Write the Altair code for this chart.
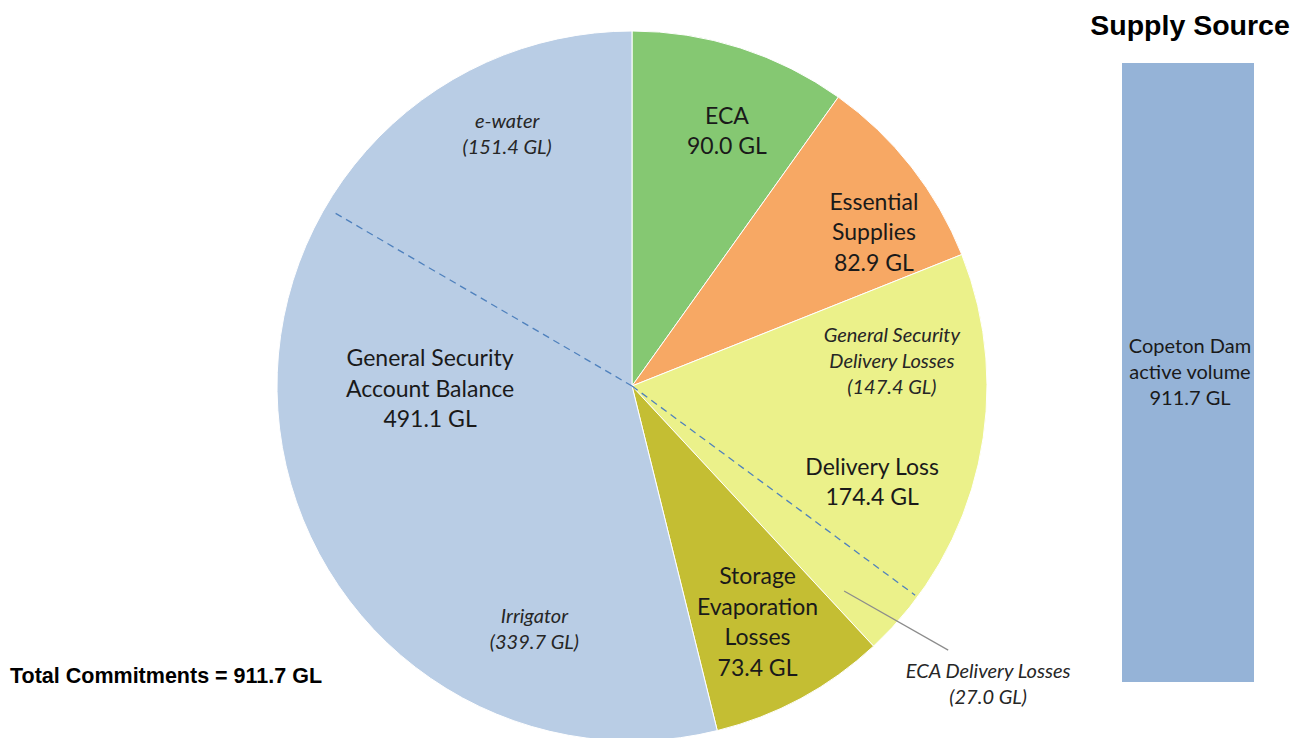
import altair as alt
import pandas as pd
import numpy as np

# ---------------- data ----------------
slice_names = ["ECA", "Essential Supplies", "Delivery Loss",
               "Storage Evaporation Losses", "General Security Account Balance"]
slice_values = [90.0, 82.9, 174.4, 73.4, 491.1]
slice_lines = [["ECA"], ["Essential", "Supplies"], ["Delivery Loss"],
               ["Storage", "Evaporation", "Losses"], ["General Security", "Account Balance"]]
slice_colors = ["#85C872", "#F7A864", "#EBF18A", "#C4BE33", "#B9CDE5"]

# sub-components (italic)
sub_names = ["General Security Delivery Losses", "ECA Delivery Losses", "Irrigator", "e-water"]
sub_parent = ["Delivery Loss", "Delivery Loss", "General Security Account Balance",
              "General Security Account Balance"]
sub_values = [147.4, 27.0, 339.7, 151.4]
sub_lines = [["General Security", "Delivery Losses"], ["ECA Delivery Losses"],
             ["Irrigator"], ["e-water"]]

supply_name = ["Copeton Dam", "active volume"]
supply_value = [911.7]
total_commitments = 911.7

# ---------------- layout ----------------
CX, CY, R = 624, 378, 355
W, H = 1289, 730
main_layout = {"ECA": (0.577, 271), "Essential Supplies": (0.679, 286),
               "Delivery Loss": (0.635, 259), "Storage Evaporation Losses": (0.516, 268),
               "General Security Account Balance": (0.530, 202)}
sub_layout = {"General Security Delivery Losses": (0.282, 261),
              "ECA Delivery Losses": (0.333, 465),
              "Irrigator": (0.266, 263), "e-water": (0.557, 280)}
MAIN_FS, MAIN_LH = 23, 30.5
SUB_FS, SUB_LH = 20, 26

TOTAL = float(np.sum(slice_values))
starts = np.concatenate([[0.0], np.cumsum(slice_values)[:-1]])
start_of = dict(zip(slice_names, starts))

pie_df = pd.DataFrame({"name": slice_names, "value": slice_values,
                       "idx": list(range(len(slice_names)))})

main_lbl = pd.DataFrame({
    "text": [ln + [f"{v:.1f} GL"] for ln, v in zip(slice_lines, slice_values)],
    "anchor": [start_of[n] + main_layout[n][0] * v for n, v in zip(slice_names, slice_values)],
    "r": [main_layout[n][1] for n in slice_names],
})

sub_start = []
offset = {}
for n, p, v in zip(sub_names, sub_parent, sub_values):
    s = start_of[p] + offset.get(p, 0.0)
    sub_start.append(s)
    offset[p] = offset.get(p, 0.0) + v

sub_lbl = pd.DataFrame({
    "text": [ln + [f"({v:.1f} GL)"] for ln, v in zip(sub_lines, sub_values)],
    "anchor": [s + sub_layout[n][0] * v for n, s, v in zip(sub_names, sub_start, sub_values)],
    "r": [sub_layout[n][1] for n in sub_names],
})

div_df = pd.DataFrame({"gl": [sub_start[1], sub_start[3]], "r0": [0, 0], "r1": [352, 346]})
eca_s = sub_start[1]
lead_df = pd.DataFrame({"gl": [eca_s + 0.71 * sub_values[1]], "r0": [295],
                        "gl2": [eca_s + 0.32 * sub_values[1]], "r1": [412]})

theta_scale = alt.Scale(domain=[0, TOTAL])
base_xy = dict(x=alt.value(CX), y=alt.value(CY))

pie = alt.Chart(pie_df).mark_arc(radius=R, stroke="white", strokeWidth=1).encode(
    theta=alt.Theta("value:Q", stack=True, scale=theta_scale),
    color=alt.Color("name:N", scale=alt.Scale(domain=slice_names, range=slice_colors), legend=None),
    order=alt.Order("idx:Q"),
    **base_xy,
)


def label_layers(df, fs, lh, italic):
    layers = []
    df = df.copy()
    df["n"] = df["text"].apply(len)
    for n in sorted(df["n"].unique()):
        sub = df[df["n"] == n].drop(columns="n")
        kw = dict(font="Lato", fontSize=fs, color="#1a1a1a" if not italic else "#262626",
                  align="center", baseline="middle", lineHeight=lh, dy=-(n - 1) * lh / 2)
        if italic:
            kw["fontStyle"] = "italic"
        layers.append(alt.Chart(sub).mark_text(**kw).encode(
            theta=alt.Theta("anchor:Q", stack=None, scale=theta_scale),
            radius=alt.Radius("r:Q", scale=None),
            text="text",
            **base_xy,
        ))
    return layers


main_text = label_layers(main_lbl, MAIN_FS, MAIN_LH, False)
sub_text = label_layers(sub_lbl, SUB_FS, SUB_LH, True)

ang = f"2*PI*datum.gl/{TOTAL}"
dividers = alt.Chart(div_df).transform_calculate(
    x1=f"{CX} + datum.r0*sin({ang})", y1=f"{CY} - datum.r0*cos({ang})",
    x2=f"{CX} + datum.r1*sin({ang})", y2=f"{CY} - datum.r1*cos({ang})",
).mark_rule(color="#4F81BD", strokeWidth=1.3, strokeDash=[7, 5]).encode(
    x=alt.X("x1:Q", scale=None, axis=None), x2="x2:Q",
    y=alt.Y("y1:Q", scale=None, axis=None), y2="y2:Q",
)

ang2 = f"2*PI*datum.gl2/{TOTAL}"
leader = alt.Chart(lead_df).transform_calculate(
    x1=f"{CX} + datum.r0*sin({ang})", y1=f"{CY} - datum.r0*cos({ang})",
    x2=f"{CX} + datum.r1*sin({ang2})", y2=f"{CY} - datum.r1*cos({ang2})",
).mark_rule(color="#8C8C8C", strokeWidth=1.2).encode(
    x=alt.X("x1:Q", scale=None, axis=None), x2="x2:Q",
    y=alt.Y("y1:Q", scale=None, axis=None), y2="y2:Q",
)

supply_df = pd.DataFrame({"v": supply_value, "mid": [supply_value[0] / 2],
                          "text": [supply_name + [f"{supply_value[0]:.1f} GL"]]})
yscale = alt.Scale(domain=[0, supply_value[0]], range=[674, 55])
bar = alt.Chart(supply_df).mark_bar(color="#95B3D7").encode(
    x=alt.value(1114), x2=alt.value(1246),
    y=alt.Y("v:Q", scale=yscale, axis=None), y2=alt.Y2(datum=0),
)
bar_text = alt.Chart(supply_df).mark_text(
    font="Lato", fontSize=20, color="#1a1a1a", align="center", baseline="middle",
    lineHeight=26, dy=-26
).encode(
    x=alt.value(1182), y=alt.Y("mid:Q", scale=yscale, axis=None), text="text",
)

title_df = pd.DataFrame({"t": ["Supply Source"]})
title = alt.Chart(title_df).mark_text(
    font="Liberation Sans", fontSize=28.5, fontWeight="bold", color="#000000",
    align="center", baseline="middle"
).encode(x=alt.value(1182), y=alt.value(18), text="t:N")

tot_df = pd.DataFrame({"t": [f"Total Commitments = {total_commitments:.1f} GL"]})
tot = alt.Chart(tot_df).mark_text(
    font="Liberation Sans", fontSize=21.5, fontWeight="bold", color="#000000",
    align="left", baseline="middle"
).encode(x=alt.value(2), y=alt.value(669), text="t:N")

chart = alt.layer(pie, dividers, leader, *main_text, *sub_text, bar, bar_text, title, tot).resolve_scale(
    y="independent", x="independent"
).properties(
    width=W, height=H, padding=0, autosize=alt.AutoSizeParams(type="none")
).configure_view(stroke=None)

chart.save("out.html", embed_options={"renderer": "svg", "actions": False})
